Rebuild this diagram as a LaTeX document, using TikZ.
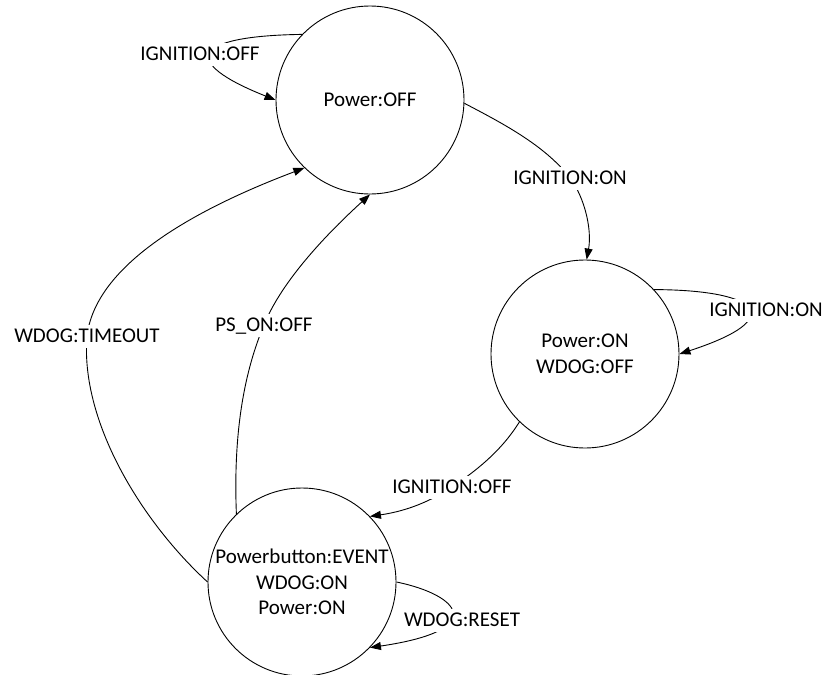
\documentclass[tikz,border=0pt]{standalone}
\usepackage{fontspec}
\setmainfont{Carlito}
\usetikzlibrary{arrows.meta}
\begin{document}
\begin{tikzpicture}[x=1pt,y=-1pt,
  state/.style={circle,draw,line width=0.9pt,minimum size=188pt,inner sep=0pt,align=center,font=\fontsize{21}{25.5}\selectfont},
  lbl/.style={fill=white,inner xsep=2pt,inner ysep=2pt,text height=16pt,text depth=3pt,font=\fontsize{21}{25}\selectfont},
  edge/.style={line width=0.9pt,-{Triangle[length=11pt,width=8pt]}}]
\useasboundingbox (0,0) rectangle (828,675);
% states
\node[state] (off) at (370,100) {Power:OFF};
\node[state] (on) at (585,354) {Power:ON\\WDOG:OFF};
\node[state] (pb) at (302,582) {Powerbutton:EVENT\\WDOG:ON\\Power:ON};
% self loop on Power:OFF
\draw[edge] (off.136) .. controls (190,36) and (180,62) .. (off.180);
\node[lbl] (l1) at (200,54) {IGNITION:OFF};
% IGNITION:ON  off -> on
\draw[edge] (off.-2) .. controls (500,122) and (545,145) .. (570,178)
  node[lbl] (l2) {IGNITION:ON}
  .. controls (585,198) and (592,230) .. (on.89);
% self loop on Power:ON
\draw[edge] (on.43) .. controls (760,290) and (790,318) .. (on.0);
\node[lbl] (l3) at (766,310) {IGNITION:ON};
% IGNITION:OFF  on -> pb
\draw[edge] (on.226) .. controls (505,445) and (485,465) .. (452,487)
  node[lbl] (l4) {IGNITION:OFF}
  .. controls (425,505) and (400,512) .. (pb.44);
% self loop WDOG:RESET
\draw[edge] (pb.0) .. controls (460,595) and (490,630) .. (pb.-44);
\node[lbl] (l5) at (462,620) {WDOG:RESET};
% PS_ON:OFF pb -> off
\draw[edge] (pb.134) .. controls (233,430) and (245,370) .. (264,325)
  node[lbl] (l6) {PS\_ON:OFF}
  .. controls (280,285) and (320,240) .. (off.270);
% WDOG:TIMEOUT pb -> off
\draw[edge] (pb.180) .. controls (140,520) and (80,420) .. (87,336)
  node[lbl] (l7) {WDOG:TIMEOUT}
  .. controls (95,270) and (180,215) .. (off.226);
\end{tikzpicture}
\end{document}
